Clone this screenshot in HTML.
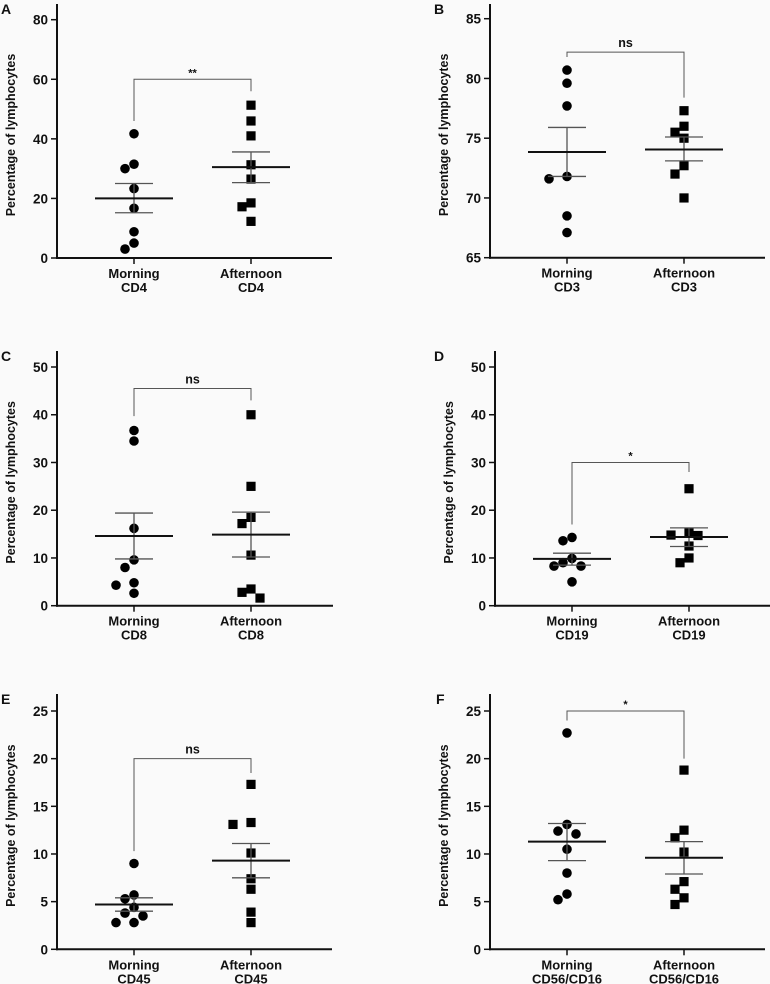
<!DOCTYPE html>
<html><head><meta charset="utf-8">
<style>
html,body{margin:0;padding:0;background:#fafafa;}
svg{display:block;font-family:"Liberation Sans",Arial,sans-serif;}
</style></head>
<body>
<svg id="fig" width="770" height="984" viewBox="0 0 770 984"></svg>
<script>
// Panel A - CD4
const catsA = ["CD4"];
const morningA = [41.7, 31.5, 30, 23.3, 16.7, 8.8, 5, 3];
const afternoonA = [51.3, 46, 41, 31.3, 26.5, 18.5, 17.2, 12.3];
const statsA = [20, 15.2, 25, 30.5, 25.3, 35.6]; // meanM, loM, hiM, meanA, loA, hiA
const ticksA = [0, 20, 40, 60, 80];
const bracketA = [60, 46, 56];
// Panel B - CD3
const morningB = [80.7, 79.6, 77.7, 71.8, 71.6, 68.5, 67.1];
const afternoonB = [77.3, 76, 75.5, 75, 72.7, 72, 70];
const statsB = [73.85, 71.8, 75.9, 74.05, 73.1, 75.1];
const ticksB = [65, 70, 75, 80, 85];
const bracketB = [82.2, 81.8, 78.4];
// Panel C - CD8
const morningC = [36.7, 34.5, 16.2, 9.6, 8, 4.8, 4.3, 2.6];
const afternoonC = [40, 25, 18.5, 17.2, 10.6, 3.5, 2.8, 1.6];
const statsC = [14.6, 9.8, 19.4, 14.9, 10.2, 19.6];
const ticksC = [0, 10, 20, 30, 40, 50];
const bracketC = [45.5, 39.7, 43];
// Panel D - CD19
const morningD = [14.3, 13.6, 9.9, 9, 8.3, 8.3, 5];
const afternoonD = [24.5, 15.4, 14.8, 14.7, 12.5, 10, 9];
const statsD = [9.8, 8.5, 11, 14.4, 12.4, 16.3];
const ticksD = [0, 10, 20, 30, 40, 50];
const bracketD = [30, 17, 28];
// Panel E - CD45
const morningE = [9, 5.7, 5.3, 4.4, 3.8, 3.5, 2.8, 2.8];
const afternoonE = [17.3, 13.3, 13.1, 10.1, 7.4, 6.3, 3.9, 2.8];
const statsE = [4.7, 4.0, 5.4, 9.3, 7.5, 11.1];
const ticksE = [0, 5, 10, 15, 20, 25];
const bracketE = [20, 10.3, 18.5];
// Panel F - CD56/CD16
const morningF = [22.7, 13.1, 12.4, 12.1, 10.5, 8, 5.8, 5.2];
const afternoonF = [18.8, 12.5, 11.7, 10.2, 7.1, 6.3, 5.4, 4.7];
const statsF = [11.3, 9.3, 13.2, 9.6, 7.9, 11.3];
const ticksF = [0, 5, 10, 15, 20, 25];
const bracketF = [25, 24, 20];

const NS = "http://www.w3.org/2000/svg";
const svg = document.getElementById("fig");
function mk(tag, attrs, parent){
  const e = document.createElementNS(NS, tag);
  for (const k in attrs) e.setAttribute(k, attrs[k]);
  (parent||svg).appendChild(e);
  return e;
}

function panel(cfg){
  const g = mk("g", {});
  
  
  const ymin = cfg.ticks[0], ymax = cfg.ticks[cfg.ticks.length-1];
  const y = v => cfg.y0 + (v - ymin) * (cfg.yTop - cfg.y0) / (ymax - ymin);
  const xs = [cfg.ax + 77, cfg.ax + 194];
  const L = mk("text", {x: cfg.letterX, y: cfg.axTop + 10, "font-size": 14, "font-weight": "bold", fill: "#111"}, g);
  L.textContent = cfg.letter;
  
  
  const ya = mk("line", {x1: cfg.ax, y1: cfg.axTop, x2: cfg.ax, y2: cfg.y0+1, stroke: "#111", "stroke-width": 2}, g);
  
  
  const xa = mk("line", {x1: cfg.ax-1, y1: cfg.y0, x2: cfg.axRight, y2: cfg.y0, stroke: "#111", "stroke-width": 2}, g);
  
  
  cfg.ticks.forEach(t => {
    mk("line", {x1: cfg.ax-6, y1: y(t), x2: cfg.ax, y2: y(t), stroke: "#111", "stroke-width": 1.5}, g);
    const tl = mk("text", {x: cfg.ax-9, y: y(t)+5, "text-anchor": "end", "font-size": 13.5, "font-weight": "bold", fill: "#111"}, g);
    tl.textContent = t;
    
    
  });
  const cy = (cfg.axTop + cfg.y0)/2 + 4;
  const yt = mk("text", {x: 0, y: 0, transform: `translate(${cfg.ax-42},${cy}) rotate(-90)`, "text-anchor": "middle", "font-size": 12.5, "font-weight": "bold", fill: "#111"}, g);
  yt.textContent = "Percentage of lymphocytes";
  
  
  ["Morning", "Afternoon"].forEach((nm, i) => {
    mk("line", {x1: xs[i], y1: cfg.y0, x2: xs[i], y2: cfg.y0+6, stroke: "#111", "stroke-width": 1.5}, g);
    const t1 = mk("text", {x: xs[i], y: cfg.y0+20, "text-anchor": "middle", "font-size": 13, "font-weight": "bold", fill: "#111"}, g);
    t1.textContent = nm;
    
    
    const t2 = mk("text", {x: xs[i], y: cfg.y0+34, "text-anchor": "middle", "font-size": 13, "font-weight": "bold", fill: "#111"}, g);
    t2.textContent = cfg.cat;
    
    
  });
  const b = cfg.bracket;
  const br = mk("path", {d: `M${xs[0]},${y(b[1])} V${y(b[0])} H${xs[1]} V${y(b[2])}`, fill: "none", stroke: "#555", "stroke-width": 1}, g);
  
  
  const sig = mk("text", {x: (xs[0]+xs[1])/2, y: y(b[0]) - (cfg.sig === "ns" ? 5 : 3), "text-anchor": "middle", "font-size": cfg.sig === "ns" ? 12.5 : 11, "font-weight": "bold", fill: "#111"}, g);
  sig.textContent = cfg.sig;
  
  
  [cfg.m, cfg.a].forEach((vals, gi) => {
    const placed = [];
    const sorted = vals.slice().sort((p, q) => q - p);
    sorted.forEach(v => {
      const py = y(v);
      const cands = [0, -9, 9, -18, 18, -27, 27, -36, 36];
      let off = 0;
      for (const c of cands) {
        if (placed.every(p => Math.hypot(p[0]-c, p[1]-py) >= 9.5)) { off = c; break; }
      }
      placed.push([off, py]);
      let el;
      if (gi === 0) el = mk("circle", {cx: xs[0]+off, cy: py, r: 4.8, fill: "#000"}, g);
      else el = mk("rect", {x: xs[1]+off-4.6, y: py-4.6, width: 9.2, height: 9.2, fill: "#000"}, g);
      
      
    });
  });
  const s = cfg.stats;
  [0, 1].forEach(i => {
    const mean = s[i*3], lo = s[i*3+1], hi = s[i*3+2];
    const x = xs[i];
    const ev = mk("line", {x1: x, y1: y(lo), x2: x, y2: y(hi), stroke: "#555", "stroke-width": 1.3}, g);
    
    
    [lo, hi].forEach(v => {
      const c = mk("line", {x1: x-19, y1: y(v), x2: x+19, y2: y(v), stroke: "#555", "stroke-width": 1.3}, g);
      
      
    });
    const ml = mk("line", {x1: x-39, y1: y(mean), x2: x+39, y2: y(mean), stroke: "#111", "stroke-width": 2}, g);
    
    
  });
}

panel({letter:"A", letterX:1, cat:"CD4", ax:57, axRight:332, axTop:4, y0:258, yTop:19.7, ticks:ticksA, m:morningA, a:afternoonA, stats:statsA, bracket:bracketA, sig:"**"});
panel({letter:"B", letterX:434, cat:"CD3", ax:490, axRight:765, axTop:4, y0:257.7, yTop:18.7, ticks:ticksB, m:morningB, a:afternoonB, stats:statsB, bracket:bracketB, sig:"ns"});
panel({letter:"C", letterX:1, cat:"CD8", ax:57, axRight:333, axTop:351, y0:605.7, yTop:367, ticks:ticksC, m:morningC, a:afternoonC, stats:statsC, bracket:bracketC, sig:"ns"});
panel({letter:"D", letterX:434, cat:"CD19", ax:495, axRight:770, axTop:351, y0:605.7, yTop:367, ticks:ticksD, m:morningD, a:afternoonD, stats:statsD, bracket:bracketD, sig:"*"});
panel({letter:"E", letterX:1, cat:"CD45", ax:57, axRight:332, axTop:694, y0:949.3, yTop:711, ticks:ticksE, m:morningE, a:afternoonE, stats:statsE, bracket:bracketE, sig:"ns"});
panel({letter:"F", letterX:436, cat:"CD56/CD16", ax:490, axRight:765, axTop:694, y0:949.3, yTop:711, ticks:ticksF, m:morningF, a:afternoonF, stats:statsF, bracket:bracketF, sig:"*"});
</script>
</body></html>
